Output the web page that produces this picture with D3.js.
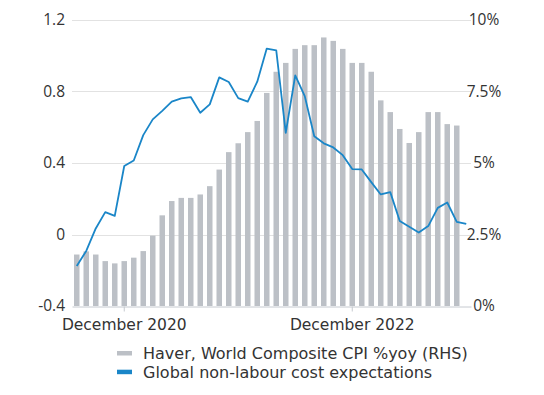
<!DOCTYPE html>
<html>
<head>
<meta charset="utf-8">
<script src="https://cdn.jsdelivr.net/npm/d3@7"></script>
<style>
  html, body { margin: 0; padding: 0; background: #ffffff; }
  svg { display: block; }
  text { font-family: "Open Sans", "Noto Sans", sans-serif; fill: #333333; }
</style>
</head>
<body>
<svg id="chart" width="544" height="395"></svg>
<script>
// ---- Data ----
const months = [
  "2020-07","2020-08","2020-09","2020-10","2020-11","2020-12",
  "2021-01","2021-02","2021-03","2021-04","2021-05","2021-06",
  "2021-07","2021-08","2021-09","2021-10","2021-11","2021-12",
  "2022-01","2022-02","2022-03","2022-04","2022-05","2022-06",
  "2022-07","2022-08","2022-09","2022-10","2022-11","2022-12",
  "2023-01","2023-02","2023-03","2023-04","2023-05","2023-06",
  "2023-07","2023-08","2023-09","2023-10","2023-11","2023-12"
];
// Haver, World Composite CPI %yoy (RHS) — Jul 2020 .. Nov 2023
const cpiYoY = [
  1.80, 1.91, 1.80, 1.57, 1.49, 1.57, 1.69, 1.92, 2.46, 3.17, 3.67, 3.78,
  3.78, 3.90, 4.19, 4.77, 5.38, 5.69, 6.08, 6.47, 7.45, 8.19, 8.50, 8.99,
  9.12, 9.12, 9.39, 9.27, 8.99, 8.50, 8.50, 8.19, 7.19, 6.78, 6.19, 5.70,
  6.08, 6.78, 6.78, 6.36, 6.31
];
// Global non-labour cost expectations (LHS) — Jul 2020 .. Dec 2023
const costExpectations = [
  -0.176, -0.092, 0.034, 0.125, 0.104, 0.383, 0.414, 0.556, 0.644, 0.692, 0.743, 0.761,
  0.769, 0.681, 0.728, 0.879, 0.853, 0.763, 0.743, 0.855, 1.040, 1.030, 0.569, 0.890,
  0.774, 0.550, 0.510, 0.487, 0.444, 0.366, 0.364, 0.293, 0.224, 0.237, 0.075, 0.043,
  0.011, 0.047, 0.149, 0.179, 0.071, 0.059
];
const leftTicks = [-0.4, 0, 0.4, 0.8, 1.2];
const leftTickLabels = ["-0.4", "0", "0.4", "0.8", "1.2"];
const rightTicks = [0, 2.5, 5, 7.5, 10];
const rightTickLabels = ["0%", "2.5%", "5%", "7.5%", "10%"];
const xTicks = ["2020-12", "2022-12"];
const xTickLabels = ["December 2020", "December 2022"];
const legendLabels = ["Haver, World Composite CPI %yoy (RHS)", "Global non-labour cost expectations"];

// ---- Layout ----
const plot = { left: 72, right: 471, top: 20, bottom: 306 };
const colors = { bar: "#bcc0c6", line: "#1a86c8", grid: "#e2e2e2", base: "#c6cad0", text: "#333333" };
const numFont = '"Open Sans", sans-serif';
const wordFont = '"DejaVu Sans", sans-serif';

const svg = d3.select("#chart");

const x = d3.scaleBand().domain(months).range([plot.left, plot.right])
  .paddingInner(0.42).paddingOuter(0.21);
const yL = d3.scaleLinear().domain([-0.4, 1.2]).range([plot.bottom, plot.top]);
const yR = d3.scaleLinear().domain([0, 10]).range([plot.bottom, plot.top]);

// gridlines
svg.append("g").selectAll("line")
  .data(leftTicks.filter(d => d !== -0.4))
  .join("line")
  .attr("x1", plot.left).attr("x2", plot.right)
  .attr("y1", d => Math.round(yL(d)) + 0.5).attr("y2", d => Math.round(yL(d)) + 0.5)
  .attr("stroke", colors.grid).attr("stroke-width", 1);

// bars
svg.append("g").selectAll("rect")
  .data(cpiYoY)
  .join("rect")
  .attr("x", (d, i) => x(months[i]))
  .attr("width", x.bandwidth())
  .attr("y", d => yR(d))
  .attr("height", d => yR(0) - yR(d))
  .attr("fill", colors.bar);

// bottom axis
const xAxis = d3.axisBottom(x)
  .tickValues(xTicks)
  .tickFormat(d => xTickLabels[xTicks.indexOf(d)])
  .tickSize(5).tickSizeOuter(0).tickPadding(7);
const gx = svg.append("g")
  .attr("transform", `translate(0,${plot.bottom + 0.5})`)
  .call(xAxis);
gx.select(".domain").attr("stroke", colors.base);
gx.selectAll(".tick line").attr("stroke", colors.base);
gx.selectAll(".tick text")
  .attr("fill", colors.text)
  .style("font-size", "15.5px")
  .style("font-family", wordFont);

// left axis labels
const gl = svg.append("g")
  .attr("transform", `translate(${plot.left},0)`)
  .call(d3.axisLeft(yL).tickValues(leftTicks)
    .tickFormat(d => leftTickLabels[leftTicks.indexOf(d)])
    .tickSize(0).tickPadding(7));
gl.select(".domain").remove();
gl.selectAll(".tick text").attr("fill", colors.text)
  .style("font-size", "15.5px").style("font-family", numFont);

// right axis labels (centered)
const gr = svg.append("g")
  .attr("transform", `translate(${plot.right},0)`)
  .call(d3.axisRight(yR).tickValues(rightTicks)
    .tickFormat(d => rightTickLabels[rightTicks.indexOf(d)])
    .tickSize(0).tickPadding(13));
gr.select(".domain").remove();
gr.selectAll(".tick text").attr("fill", colors.text)
  .attr("text-anchor", "middle")
  .style("font-size", "15.5px").style("font-family", numFont);

// line
const line = d3.line()
  .x((d, i) => x(months[i]) + x.bandwidth() / 2)
  .y(d => yL(d));
svg.append("path")
  .datum(costExpectations)
  .attr("d", line)
  .attr("fill", "none")
  .attr("stroke", colors.line)
  .attr("stroke-width", 1.8)
  .attr("stroke-linejoin", "round");

// legend
const legend = svg.append("g").attr("transform", "translate(117,353)");
const items = [
  { label: legendLabels[0], color: colors.bar },
  { label: legendLabels[1], color: colors.line }
];
const li = legend.selectAll("g").data(items).join("g")
  .attr("transform", (d, i) => `translate(0,${i * 18.7})`);
li.append("rect").attr("x", 0).attr("y", -2).attr("width", 15).attr("height", 4.5)
  .attr("fill", d => d.color);
li.append("text").attr("x", 26).attr("y", 0).attr("dy", "0.37em")
  .text(d => d.label)
  .style("font-size", "16px")
  .style("font-family", wordFont);
</script>
</body>
</html>
